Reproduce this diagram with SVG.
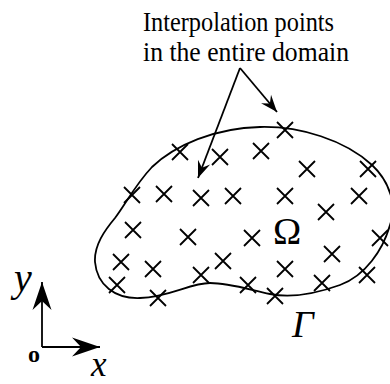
<svg xmlns="http://www.w3.org/2000/svg" width="390" height="384" viewBox="0 0 390 384">
<style>
text{font-family:"Liberation Serif","Times New Roman",serif;fill:#000}
.ln{stroke:#000;stroke-width:1.8;fill:none}
</style>
<defs>
<marker id="ah" markerUnits="userSpaceOnUse" orient="auto" refX="0" refY="0" markerWidth="20" markerHeight="20" overflow="visible">
<path d="M0,0 L-17,-6.5 L-11,0 L-17,6.5 Z" fill="#000"/>
</marker>
<marker id="axh" markerUnits="userSpaceOnUse" orient="auto" refX="0" refY="0" markerWidth="30" markerHeight="30" overflow="visible">
<path d="M0,0 L-28,-9.5 L-19,0 L-28,9.5 Z" fill="#000"/>
</marker>
<path id="c" d="M-8,-8 L8,8 M-8,8 L8,-8" stroke="#000" stroke-width="1.8" fill="none"/>
</defs>
<rect width="390" height="384" fill="#fff"/>
<g id="domain">
<path class="ln" d="M95,262 C94,245 105,230 115,218 C125,205 135,185 152,167 C175,145 215,128 260,127 C300,126 345,140 372,165 C390,182 397,205 390,225 C383,250 365,276 340,285 C315,294 290,298 270,294 C250,290 230,283 210,283 C190,283 170,297 140,298 C115,299 97,285 95,262 Z"/>
</g>
<g id="points">
<use href="#c" x="285" y="130"/>
<use href="#c" x="180" y="152"/>
<use href="#c" x="220" y="157"/>
<use href="#c" x="261" y="151"/>
<use href="#c" x="307" y="169"/>
<use href="#c" x="368" y="169"/>
<use href="#c" x="132" y="195"/>
<use href="#c" x="164" y="194"/>
<use href="#c" x="201" y="198"/>
<use href="#c" x="233" y="196"/>
<use href="#c" x="285" y="196"/>
<use href="#c" x="359" y="196"/>
<use href="#c" x="326" y="212"/>
<use href="#c" x="133" y="230"/>
<use href="#c" x="188" y="237"/>
<use href="#c" x="252" y="238"/>
<use href="#c" x="380" y="238"/>
<use href="#c" x="223" y="261"/>
<use href="#c" x="332" y="254"/>
<use href="#c" x="121" y="262"/>
<use href="#c" x="153" y="269"/>
<use href="#c" x="201" y="275"/>
<use href="#c" x="285" y="269"/>
<use href="#c" x="117" y="285"/>
<use href="#c" x="158" y="298"/>
<use href="#c" x="248" y="285"/>
<use href="#c" x="275" y="296"/>
<use href="#c" x="322" y="283"/>
<use href="#c" x="367" y="275"/>
</g>
<g id="label">
<text x="143" y="31" font-size="27" textLength="191" lengthAdjust="spacingAndGlyphs">Interpolation points</text>
<text x="143" y="61" font-size="27" textLength="206" lengthAdjust="spacingAndGlyphs">in the entire domain</text>
</g>
<g id="connectors">
<path class="ln" d="M240,68 L198,178" marker-end="url(#ah)"/>
<path class="ln" d="M240,68 L277,112" marker-end="url(#ah)"/>
</g>
<g id="omega"><text x="287" y="244" font-size="38" text-anchor="middle">Ω</text></g>
<g id="gamma"><text x="292" y="337" font-size="38" font-style="italic">Γ</text></g>
<g id="axes">
<path class="ln" d="M42,347 L42,282" marker-end="url(#axh)"/>
<path class="ln" d="M42,347 L100,347" marker-end="url(#axh)"/>
<text x="14" y="291" font-size="40" font-style="italic">y</text>
<text x="91" y="376" font-size="35" font-style="italic">x</text>
<text x="28" y="362" font-size="24" font-weight="bold">o</text>
</g>
</svg>
